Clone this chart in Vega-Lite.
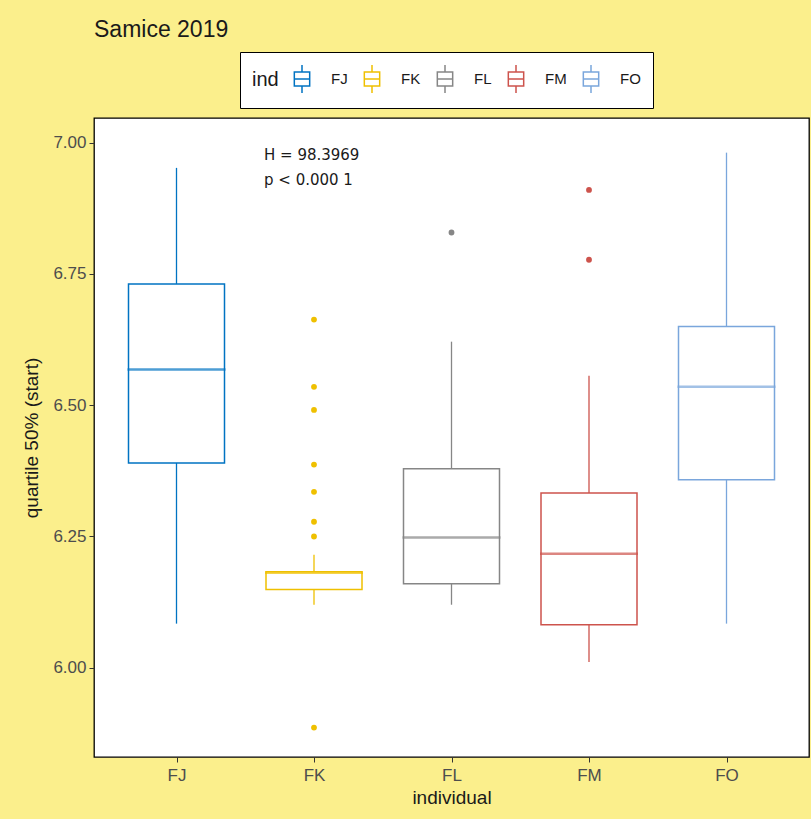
{
  "$schema": "https://vega.github.io/schema/vega-lite/v6.json",
  "autosize": "none",
  "width": 715,
  "height": 639,
  "padding": {"left": 94, "top": 118, "right": 2, "bottom": 62},
  "background": "#FBEF8C",
  "title": {"text": "Samice 2019", "anchor": "start", "frame": "group", "font": "Liberation Sans", "fontSize": 23, "fontWeight": "normal", "color": "#1a1a1a", "offset": 10},
  "config": {
    "view": {"fill": "white", "stroke": "black", "strokeWidth": 1.3},
    "axis": {"labelFont": "Liberation Sans", "titleFont": "Liberation Sans", "labelFontSize": 17, "titleFontSize": 19, "labelColor": "#4D4D4D", "titleColor": "#1a1a1a", "titleFontWeight": "normal", "tickColor": "#333333", "tickSize": 5, "domain": false, "grid": false}
  },
  "datasets": {
    "boxes": [
      {"ind": "FJ", "lower": 6.084, "q1": 6.390, "median": 6.568, "q3": 6.731, "upper": 6.952},
      {"ind": "FK", "lower": 6.120, "q1": 6.149, "median": 6.181, "q3": 6.183, "upper": 6.215},
      {"ind": "FL", "lower": 6.120, "q1": 6.160, "median": 6.248, "q3": 6.379, "upper": 6.621},
      {"ind": "FM", "lower": 6.011, "q1": 6.082, "median": 6.217, "q3": 6.333, "upper": 6.556},
      {"ind": "FO", "lower": 6.084, "q1": 6.358, "median": 6.535, "q3": 6.650, "upper": 6.981}
    ],
    "outliers": [
      {"ind": "FK", "value": 6.663},
      {"ind": "FK", "value": 6.535},
      {"ind": "FK", "value": 6.491},
      {"ind": "FK", "value": 6.387},
      {"ind": "FK", "value": 6.335},
      {"ind": "FK", "value": 6.278},
      {"ind": "FK", "value": 6.250},
      {"ind": "FK", "value": 5.886},
      {"ind": "FL", "value": 6.829},
      {"ind": "FM", "value": 6.910},
      {"ind": "FM", "value": 6.777}
    ],
    "notes": [
      {"ind": "FK", "y": 6.977, "label": "H = 98.3969"},
      {"ind": "FK", "y": 6.929, "label": "p < 0.000 1"}
    ]
  },
  "encoding": {
    "x": {"field": "ind", "type": "nominal", "scale": {"type": "point", "padding": 0.6, "domain": ["FJ", "FK", "FL", "FM", "FO"]}, "axis": {"title": "individual", "labelAngle": 0, "labelPadding": 5, "titlePadding": 5}}
  },
  "layer": [
    {
      "data": {"name": "boxes"},
      "mark": {"type": "rule", "strokeWidth": 1.3},
      "encoding": {
        "y": {"field": "lower", "type": "quantitative", "scale": {"domain": [5.83, 7.047], "nice": false, "zero": false}, "axis": {"title": "quartile 50% (start)", "values": [6, 6.25, 6.5, 6.75, 7], "format": ".2f", "labelPadding": 3, "titlePadding": 11}},
        "y2": {"field": "q1"},
        "color": {"field": "ind", "type": "nominal", "scale": {"domain": ["FJ", "FK", "FL", "FM", "FO"], "range": ["#0073C2", "#EFC000", "#868686", "#CD534C", "#7AA6DC"]},
          "legend": {"title": "ind", "orient": "none", "direction": "horizontal", "legendX": 146, "legendY": -66, "titleOrient": "left", "titleFont": "Liberation Sans", "titleFontSize": 20, "titleFontWeight": "normal", "titleColor": "#1a1a1a", "titlePadding": 8, "labelFont": "Liberation Sans", "labelFontSize": 15, "labelColor": "#1a1a1a", "fillColor": "white", "strokeColor": "black", "padding": 12, "columnPadding": 9, "symbolType": "M0,-1L0,-0.5M-0.55,-0.5L0.55,-0.5L0.55,0.5L-0.55,0.5ZM-0.55,0L0.55,0M0,0.5L0,1", "symbolSize": 780, "symbolStrokeWidth": 1.5, "labelOffset": 14}
        }
      }
    },
    {
      "data": {"name": "boxes"},
      "mark": {"type": "rule", "strokeWidth": 1.3},
      "encoding": {
        "y": {"field": "q3", "type": "quantitative"},
        "y2": {"field": "upper"},
        "color": {"field": "ind", "type": "nominal"}
      }
    },
    {
      "data": {"name": "boxes"},
      "mark": {"type": "bar", "size": 96, "filled": false, "strokeWidth": 1.5},
      "encoding": {
        "y": {"field": "q1", "type": "quantitative"},
        "y2": {"field": "q3"},
        "color": {"field": "ind", "type": "nominal"}
      }
    },
    {
      "data": {"name": "boxes"},
      "mark": {"type": "tick", "size": 96, "thickness": 0.5, "filled": false, "strokeWidth": 2},
      "encoding": {
        "y": {"field": "median", "type": "quantitative"},
        "color": {"field": "ind", "type": "nominal"}
      }
    },
    {
      "data": {"name": "outliers"},
      "mark": {"type": "point", "filled": false, "size": 8, "strokeWidth": 3, "opacity": 1},
      "encoding": {
        "y": {"field": "value", "type": "quantitative"},
        "color": {"field": "ind", "type": "nominal"}
      }
    },
    {
      "data": {"name": "notes"},
      "mark": {"type": "text", "align": "left", "baseline": "middle", "dx": -50, "font": "DejaVu Sans", "fontSize": 15, "color": "#1a1a1a"},
      "encoding": {
        "y": {"field": "y", "type": "quantitative"},
        "text": {"field": "label"}
      }
    }
  ]
}
